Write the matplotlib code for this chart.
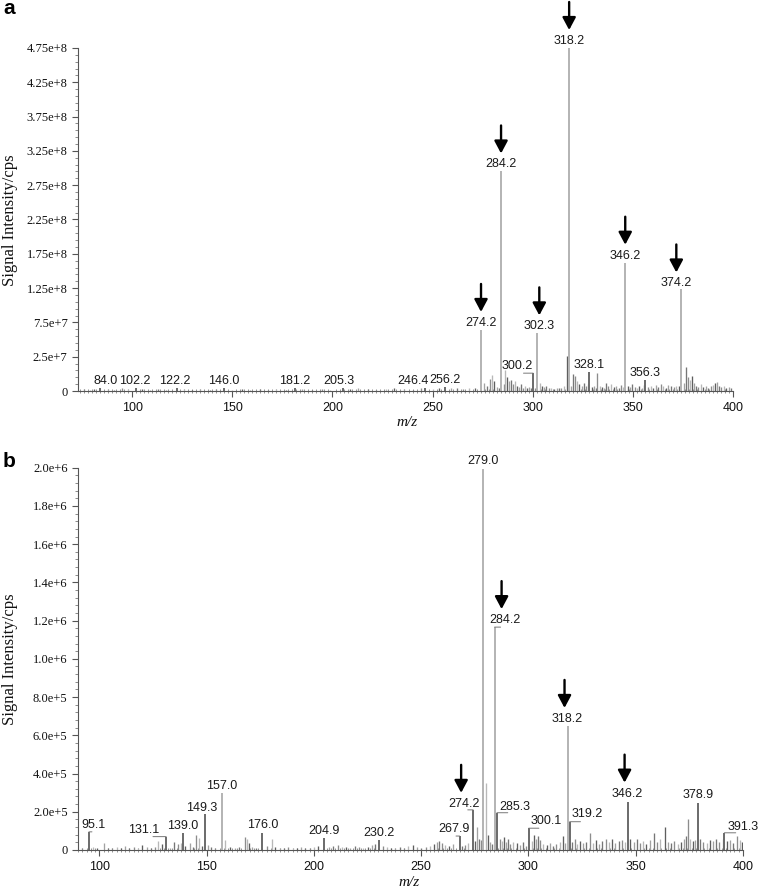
import matplotlib
matplotlib.use('Agg')
import matplotlib.pyplot as plt
import matplotlib.transforms as mtrans
from matplotlib.ticker import AutoMinorLocator, MultipleLocator
import numpy as np

# ---------------- Panel a data (intensity in 1e6 cps) ----------------
a_label_mz = [84.0, 102.2, 122.2, 146.0, 181.2, 205.3, 246.4, 256.2, 274.2, 284.2,
              300.2, 302.3, 318.2, 328.1, 346.2, 356.3, 374.2]
a_label_int = [4, 5, 4, 5, 4, 4, 5, 6, 89, 320, 26, 84, 500, 28, 187, 16, 148]
a_arrow_mz = [274.2, 284.2, 302.3, 318.2, 346.2, 374.2]
a_minor_peaks = [
    (76, 3), (79, 2), (81, 3), (88, 3), (91, 2), (95, 4), (98, 3), (105, 3), (109, 2), (113, 3),
    (117, 2), (126, 3), (130, 2), (134, 3), (139, 2), (142, 3), (150, 2), (155, 3), (159, 2),
    (164, 3), (168, 2), (172, 3), (177, 2), (185, 3), (190, 2), (195, 3), (199, 2), (209, 3),
    (213, 4), (218, 3), (222, 2), (227, 3), (231, 4), (236, 3), (240, 2), (244, 4), (250, 3),
    (253, 4), (259, 5), (262, 4), (265, 3), (268, 4), (271, 5),
    (275.5, 12), (277, 8), (278.5, 18), (279.5, 24), (280.5, 14), (282, 6), (283, 5),
    (285.5, 10), (286.2, 30), (287, 20), (288, 14), (289, 16), (290, 10), (291, 14), (292, 8),
    (293, 6), (294, 10), (295, 5), (296, 7), (297, 4), (298, 6), (299, 4), (301, 5),
    (303.5, 12), (304.5, 8), (305.5, 6), (306.5, 7), (308, 4), (309, 5), (310.5, 3), (312, 4),
    (313, 5), (314, 4), (315.5, 7), (317.2, 51), (319, 8), (320.3, 25), (321.2, 22), (322, 14),
    (323, 10), (324.5, 8), (325.5, 12), (326.5, 7), (327.5, 10), (329.5, 6), (330.5, 8),
    (331.5, 5), (332.3, 26), (333.5, 8), (334.5, 6), (335.5, 5), (336.5, 12), (337.5, 7),
    (339, 10), (340.5, 6), (341.5, 8), (343, 5), (344, 9), (345, 6), (347.5, 8), (348.5, 6),
    (349.5, 10), (351, 6), (352, 5), (353, 8), (354.5, 5), (355.5, 9), (357.5, 6), (359, 8),
    (360, 5), (361.5, 9), (362.5, 6), (364, 10), (365, 7), (366.5, 5), (367.5, 9), (369, 7),
    (370.5, 6), (371.5, 8), (373, 7), (375.5, 12), (376.4, 35), (377.3, 20), (378.3, 16),
    (379.4, 22), (380.3, 12), (381.5, 8), (382.5, 6), (384, 10), (385, 6), (386.5, 8),
    (387.5, 5), (389, 7), (390, 9), (391, 11), (392, 13), (393, 8), (394, 6), (395.5, 7),
    (396.5, 5), (398, 6), (399, 4)]
a_ytick_labels = ['0', '2.5e+7', '7.5e+7', '1.25e+8', '1.75e+8', '2.25e+8', '2.75e+8',
                  '3.25e+8', '3.75e+8', '4.25e+8', '4.75e+8']
a_xticks = [100, 150, 200, 250, 300, 350, 400]

# ---------------- Panel b data (intensity in 1e3 cps) ----------------
b_label_mz = [95.1, 131.1, 139.0, 149.3, 157.0, 176.0, 204.9, 230.2, 267.9, 274.2, 279.0,
              284.2, 285.3, 300.1, 318.2, 319.2, 346.2, 378.9, 391.3]
b_label_int = [95, 70, 87, 188, 300, 90, 61, 50, 73, 210, 1993, 1166, 195, 114, 649, 148,
               253, 245, 90]
b_arrow_mz = [274.2, 284.2, 318.2, 346.2]
b_minor_peaks = [
    (92, 10), (97, 15), (99, 8), (102, 35), (104, 10), (106, 12), (108, 18), (110, 10),
    (112, 20), (114, 12), (116, 15), (118, 10), (120, 25), (122, 14), (124, 10), (126, 18),
    (127.5, 45), (129, 30), (133, 12), (134.9, 40), (136.5, 30), (138, 35), (140, 20),
    (142, 35), (143.5, 15), (145.1, 80), (146.2, 62), (148, 20), (150.5, 25), (152, 15),
    (154, 12), (158.7, 50), (161, 15), (163, 10), (165, 15), (167.7, 68), (168.6, 60),
    (169.5, 35), (171, 15), (173, 12), (178, 20), (180.5, 55), (182, 15), (184, 10), (186, 12),
    (188, 15), (190, 10), (192, 12), (194, 15), (196, 10), (198, 12), (200, 15), (202, 20),
    (207, 15), (209, 20), (211, 25), (213, 15), (215, 18), (217, 12), (219, 22), (221, 15),
    (223, 12), (225, 18), (227, 25), (228.5, 30), (232, 20), (234, 15), (236, 12), (238, 10),
    (240, 15), (242, 12), (244, 20), (246, 25), (248, 15), (250, 12), (252, 18), (254, 20),
    (256, 30), (257.5, 40), (258.5, 45), (259.5, 35), (261, 25), (263, 20), (265, 30),
    (269, 20), (270.5, 25), (272, 35), (275, 45), (276.1, 119), (277, 60), (278, 50),
    (280.1, 350), (281, 80), (282, 40), (283, 30), (286.5, 60), (287.5, 45), (288.5, 70),
    (289.5, 40), (290.5, 55), (291.5, 30), (293, 40), (294.5, 35), (296, 25), (297.5, 40),
    (299, 20), (301.5, 45), (302.5, 80), (303.5, 60), (304.5, 75), (305.5, 50), (307, 30),
    (308.5, 25), (310, 35), (311.5, 20), (313, 30), (314.5, 40), (316.3, 73), (317.2, 35),
    (320.5, 40), (321.5, 55), (322.5, 30), (324, 45), (325.5, 35), (327, 40), (328.6, 90),
    (330, 35), (331.5, 50), (333, 30), (334.5, 45), (336, 55), (337.5, 40), (339, 60),
    (340.5, 35), (342, 45), (343.5, 50), (345, 40), (347.5, 55), (349, 40), (350.5, 60),
    (352, 35), (353.5, 45), (355, 30), (356.5, 50), (358.5, 90), (360, 40), (361.5, 55),
    (363.5, 120), (365, 40), (366.5, 35), (368, 45), (369.5, 30), (371, 40), (372.5, 55),
    (373.5, 75), (374.3, 160), (375.5, 60), (376.5, 45), (377.5, 50), (380, 55), (381.5, 40),
    (383, 35), (384.5, 50), (386, 45), (387.5, 60), (389, 40), (390.5, 55), (392.5, 45),
    (394, 50), (395.5, 35), (397, 73), (398.5, 50), (399.5, 40)]
b_ytick_labels = ['0', '2.0e+5', '4.0e+5', '6.0e+5', '8.0e+5', '1.0e+6', '1.2e+6', '1.4e+6',
                  '1.6e+6', '1.8e+6', '2.0e+6']
b_xticks = [100, 150, 200, 250, 300, 350, 400]

# ---------------- label placement (pixels: dx, dy, leader) ----------------
a_label_style = {84.0: (6, 7, False), 102.2: (-2, 7, False), 122.2: (-2, 7, False),
                 205.3: (-4, 7, False), 246.4: (-12, 7, False), 300.2: (-16, 7, True),
                 302.3: (2, 7, False), 374.2: (-5, 6, False)}
b_label_style = {95.1: (5, 7, True), 131.1: (-22, 7, True), 149.3: (-4, 6, False),
                 176.0: (0, 8, False), 267.9: (-6, 7, True), 274.2: (-9, 6, True),
                 279.0: (0, 8, False), 284.2: (10, 7, True), 285.3: (18, 6, True),
                 300.1: (17, 7, True), 319.2: (18, 8, True), 346.2: (0, 8, False),
                 378.9: (0, 8, False), 391.3: (19, 6, True)}

SANS = 'Liberation Sans'
SERIF = 'Liberation Serif'
PX = 0.72  # points per pixel at dpi 100
noise_colors = ['#8c8c8c', '#b8b8b8', '#5e5e5e', '#a2a2a2', '#767676']

fig = plt.figure(figsize=(7.59, 8.89), dpi=100)
axA = fig.add_axes([78 / 759, 1 - 391 / 889, 655 / 759, 343 / 889])
axB = fig.add_axes([78 / 759, 1 - 850 / 889, 665 / 759, 382.3 / 889])


def draw_panel(ax, label_mz, label_int, minor, scale, arrows, styles, arrow_dx):
    mz = [p[0] for p in minor]
    it = [p[1] * scale for p in minor]
    cols = [noise_colors[i % len(noise_colors)] for i in range(len(mz))]
    ax.vlines(mz, 0, it, colors=cols, lw=0.95)
    big = max(label_int)
    for m, v in zip(label_mz, label_int):
        col = '#b3b3b3' if v > 0.15 * big else '#6a6a6a'
        ax.vlines([m], 0, [v * scale], colors=col, lw=1.4)
    for m, v in zip(label_mz, label_int):
        dx, dy, leader = styles.get(m, (0, 7, False))
        h = v * scale
        tr = mtrans.offset_copy(ax.transData, fig=fig, x=dx * PX, y=dy * PX, units='points')
        ax.text(m, h, f'{m:.1f}', transform=tr, ha='center', va='center',
                family=SANS, fontsize=9, color='#1a1a1a', clip_on=False)
        if leader:
            ax.annotate('', xy=(m, h), xycoords='data', xytext=(dx * 0.6 * PX, 0),
                        textcoords='offset points',
                        arrowprops=dict(arrowstyle='-', color='#777', lw=0.7,
                                        shrinkA=0, shrinkB=0), annotation_clip=False)
        if m in arrows:
            tip = mtrans.offset_copy(ax.transData, fig=fig, x=(dx + arrow_dx) * PX,
                                     y=(dy + 11) * PX, units='points')
            tail = mtrans.offset_copy(ax.transData, fig=fig, x=(dx + arrow_dx) * PX,
                                      y=(dy + 39) * PX, units='points')
            ax.annotate('', xy=(m, h), xycoords=tip, xytext=(m, h), textcoords=tail,
                        arrowprops=dict(arrowstyle='-|>,head_length=0.75,head_width=0.4',
                                        color='black', lw=1.7, shrinkA=0, shrinkB=0),
                        annotation_clip=False)


draw_panel(axA, a_label_mz, a_label_int, a_minor_peaks, 1e6, a_arrow_mz, a_label_style, 0)
draw_panel(axB, b_label_mz, b_label_int, b_minor_peaks, 1e3, b_arrow_mz, b_label_style, -3)

axA.set_xlim(73, 400)
axA.set_ylim(0, 5e8)
axB.set_xlim(90, 400)
axB.set_ylim(0, 2e6)

axA.set_yticks(np.arange(len(a_ytick_labels)) * 5e7, labels=a_ytick_labels,
               family=SERIF, fontsize=9)
axB.set_yticks(np.arange(len(b_ytick_labels)) * 2e5, labels=b_ytick_labels,
               family=SERIF, fontsize=9)
axA.set_xticks(a_xticks, labels=[str(t) for t in a_xticks], family=SANS, fontsize=9)
axB.set_xticks(b_xticks, labels=[str(t) for t in b_xticks], family=SANS, fontsize=9)

for ax in (axA, axB):
    for s in ('top', 'right'):
        ax.spines[s].set_visible(False)
    for s in ('left', 'bottom'):
        ax.spines[s].set_color('#555')
        ax.spines[s].set_linewidth(0.8)
    ax.yaxis.set_minor_locator(AutoMinorLocator(5))
    ax.xaxis.set_minor_locator(MultipleLocator(2))
    ax.tick_params(axis='x', which='major', direction='out', length=4, width=0.8,
                   color='#555', labelcolor='#111', pad=4)
    ax.tick_params(axis='x', which='minor', direction='inout', length=3, width=0.55,
                   color='#777')
    ax.tick_params(axis='y', which='major', direction='out', length=4.5, width=0.8,
                   color='#555', labelcolor='#111', pad=3)
    ax.tick_params(axis='y', which='minor', direction='out', length=2.5, width=0.6,
                   color='#777')

for yc in (220, 659):
    fig.text(10 / 759, 1 - yc / 889, 'Signal Intensity/cps', rotation=90, ha='center',
             va='center', family=SERIF, fontsize=12, color='#111')
fig.text(407 / 759, 1 - 423 / 889, 'm/z', ha='center', va='center', family=SERIF,
         style='italic', fontsize=11, color='#111')
fig.text(409 / 759, 1 - 883 / 889, 'm/z', ha='center', va='center', family=SERIF,
         style='italic', fontsize=11, color='#111')
fig.text(9 / 759, 1 - 9 / 889, 'a', ha='center', va='center', family=SANS,
         fontweight='bold', fontsize=15)
fig.text(9 / 759, 1 - 462 / 889, 'b', ha='center', va='center', family=SANS,
         fontweight='bold', fontsize=15)

fig.savefig('out.png', dpi=100)
